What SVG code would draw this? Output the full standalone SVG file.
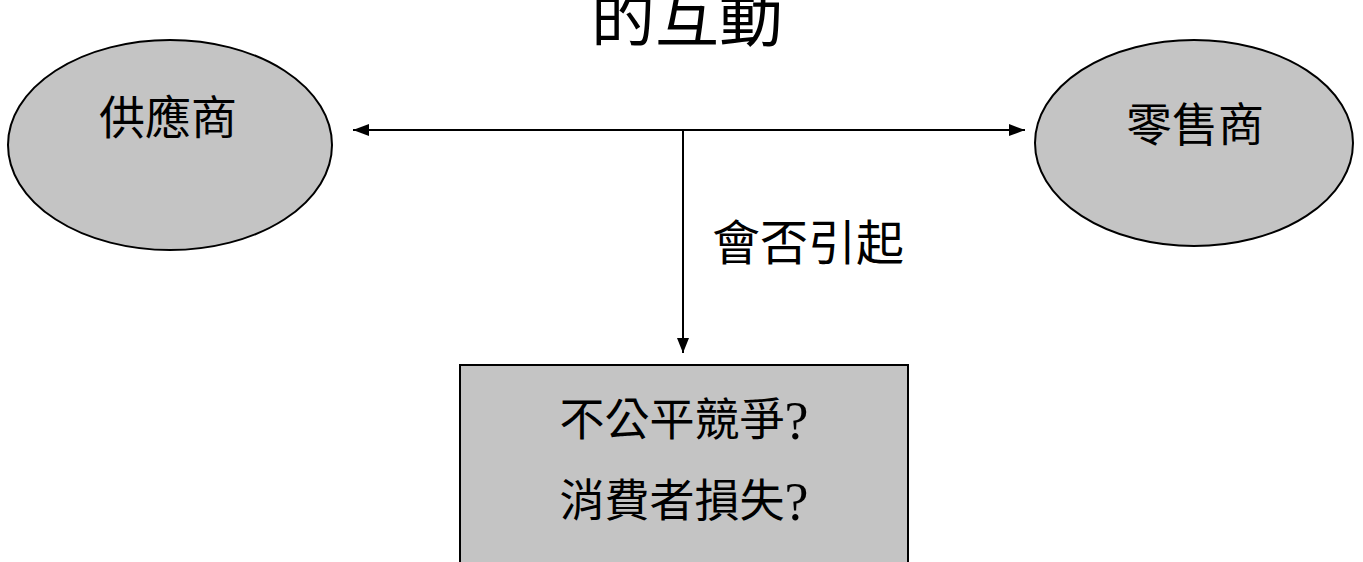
<svg xmlns="http://www.w3.org/2000/svg" width="1363" height="562" viewBox="0 0 1363 562">
<style>
.shape{fill:#c4c4c4;stroke:#000;stroke-width:2}
.lbl{font-family:"Liberation Serif","Noto Sans CJK TC",serif;fill:#000;text-anchor:middle;dominant-baseline:central}
.q{font-size:54px}
.conn{stroke:#000;stroke-width:2;fill:none}
</style>
<rect width="1363" height="562" fill="#fff"/>
<text id="title" class="lbl" x="687" y="19" font-size="64">的互動</text>
<g id="supplier">
<ellipse class="shape" cx="170" cy="145" rx="162" ry="105"/>
<text class="lbl" x="168" y="118" font-size="46">供應商</text>
</g>
<g id="retailer">
<ellipse class="shape" cx="1194" cy="143" rx="159" ry="103"/>
<text class="lbl" x="1195" y="125" font-size="46">零售商</text>
</g>
<g id="outcome">
<rect class="shape" x="460" y="365" width="448" height="210"/>
<text class="lbl" x="684" y="421" font-size="45">不公平競爭<tspan class="q">?</tspan></text>
<text class="lbl" x="684" y="502" font-size="45">消費者損失<tspan class="q">?</tspan></text>
</g>
<g id="connectors">
<path class="conn" d="M683,130 L1025,130"/>
<path class="conn" d="M683,130 L353,130"/>
<path class="conn" d="M683,130 L683,353"/>
<path d="M353,130 L369,124 L369,136 z" fill="#000"/>
<path d="M1025,130 L1009,124 L1009,136 z" fill="#000"/>
<path d="M683,353 L677,338 L689,338 z" fill="#000"/>
<text class="lbl" x="808" y="243" font-size="48">會否引起</text>
</g>
</svg>
